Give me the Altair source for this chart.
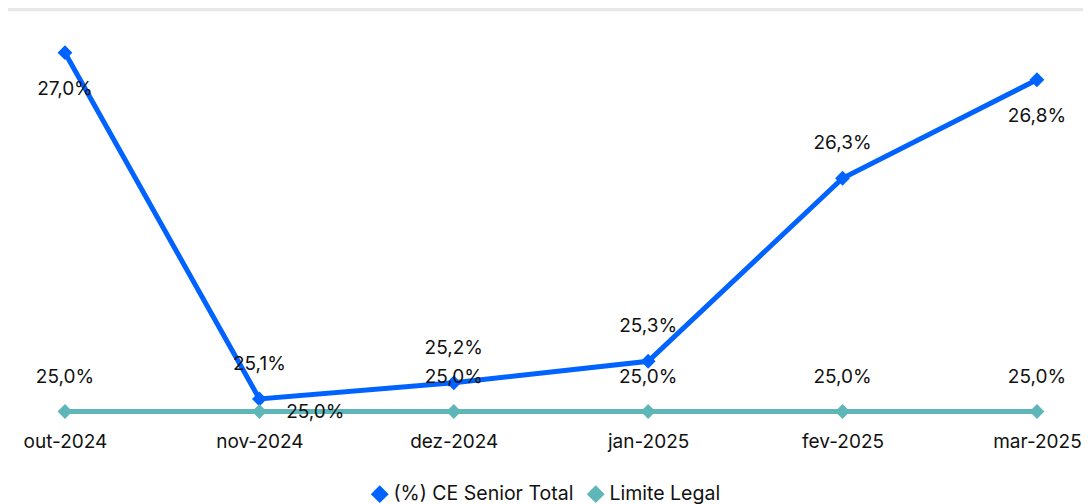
import altair as alt
import pandas as pd

months = ["out-2024", "nov-2024", "dez-2024", "jan-2025", "fev-2025", "mar-2025"]
ce_senior = [27.0, 25.07, 25.16, 25.28, 26.30, 26.849]
limite = [25.0, 25.0, 25.0, 25.0, 25.0, 25.0]
ce_label_pos = ["below", "above", "above", "above", "above", "below"]
lim_label_pos = ["above", "right", "above", "above", "above", "above"]
series_names = ["(%) CE Senior Total", "Limite Legal"]
colors = ["#0063FF", "#5FB6B8"]

rows = []
for m, v, p in zip(months, ce_senior, ce_label_pos):
    rows.append({"month": m, "series": series_names[0], "value": v, "pos": p})
for m, v, p in zip(months, limite, lim_label_pos):
    rows.append({"month": m, "series": series_names[1], "value": v, "pos": p})
df = pd.DataFrame(rows)

FONT = "Inter"
W, H = 1075, 422

x = alt.X("month:O", sort=months, title=None,
          scale=alt.Scale(type="point", padding=0.265, align=0.553),
          axis=alt.Axis(labelAngle=0, ticks=False, domain=False, grid=False,
                        labelFontSize=19, labelFont=FONT, labelColor="#111111",
                        labelPadding=2))
y = alt.Y("value:Q", title=None,
          scale=alt.Scale(domain=[24.897, 27.249], nice=False, zero=False),
          axis=None)
color = alt.Color("series:N", title=None,
                  scale=alt.Scale(domain=series_names, range=colors),
                  legend=alt.Legend(orient="none", legendX=362, legendY=476, direction="horizontal",
                                    symbolType="diamond", symbolSize=320, symbolStrokeWidth=0,
                                    labelFontSize=19.5, labelFont=FONT, labelColor="#111111",
                                    labelLimit=0, labelOffset=4, columnPadding=12,
                                    symbolOpacity=1))

base = alt.Chart(df)

lines = base.mark_line(strokeWidth=5).encode(x=x, y=y, color=color, order=alt.Order("series:N"))
points = base.mark_point(shape="diamond", filled=True, size=220, opacity=1).encode(
    x=x, y=y,
    color=alt.Color("series:N", scale=alt.Scale(domain=series_names, range=colors), legend=None))

lab = base.transform_calculate(
    label="replace(format(datum.value, '.1f'), '.', ',') + '%'"
)
txt_kw = dict(fontSize=19, font=FONT, color="#111111", baseline="middle")
above = lab.transform_filter("datum.pos == 'above'").mark_text(dy=-35, **txt_kw).encode(
    x=x, y=y, text="label:N")
below = lab.transform_filter("datum.pos == 'below'").mark_text(dy=36, **txt_kw).encode(
    x=x, y=y, text="label:N")
right = lab.transform_filter("datum.pos == 'right'").mark_text(dx=56, dy=0, **txt_kw).encode(
    x=x, y=y, text="label:N")

top_rule = alt.Chart(pd.DataFrame({"a": [0]})).mark_rule(color="#E6E6E6", strokeWidth=3.5).encode(
    x=alt.value(-8), x2=alt.value(W + 8), y=alt.value(1.5))

chart = alt.layer(top_rule, lines, points, above, below, right).properties(
    width=W, height=H,
    autosize=alt.AutoSizeParams(type="none"),
    padding={"left": 0, "top": 0, "right": 0, "bottom": 74},
).configure(background="white").configure_view(stroke=None, strokeWidth=0)

chart.save("out.html", embed_options={"renderer": "svg", "actions": False})
